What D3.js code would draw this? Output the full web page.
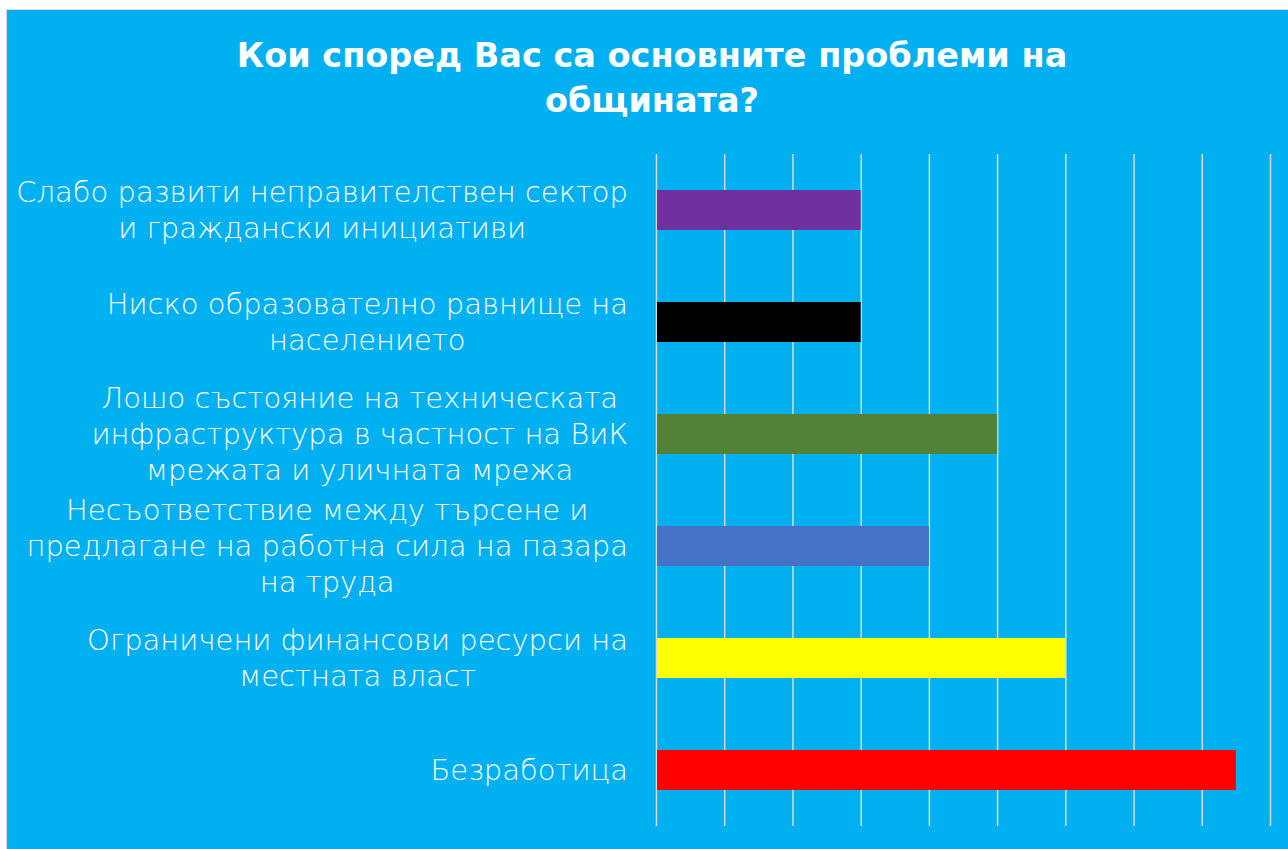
<!DOCTYPE html>
<html>
<head>
<meta charset="utf-8">
<script src="https://cdn.jsdelivr.net/npm/d3@7"></script>
<style>
  body { margin: 0; background: #ffffff; }
  svg { display: block; }
</style>
</head>
<body>
<svg id="chart"></svg>
<script>
(function () {

// Chart data
const titleLines = ["Кои според Вас са основните проблеми на", "общината?"];
const categories = [
  ["Слабо развити неправителствен сектор", "и граждански инициативи"],
  ["Ниско образователно равнище на", "населението"],
  ["Лошо състояние на техническата", "инфраструктура в частност на ВиК", "мрежата и уличната мрежа"],
  ["Несъответствие между търсене и", "предлагане на работна сила на пазара", "на труда"],
  ["Ограничени финансови ресурси на", "местната власт"],
  ["Безработица"]
];
const values = [3, 3, 5, 4, 6, 8.5];
const barColors = ["#7030A0", "#000000", "#538135", "#4472C4", "#FFFF00", "#FF0000"];
const tickValues = [0, 1, 2, 3, 4, 5, 6, 7, 8, 9];

const W = 1288, H = 849;
const plot = {left: 656, right: 1270, top: 154, bottom: 826};

const svg = d3.select("#chart")
    .attr("width", W)
    .attr("height", H);

// blue panel
svg.append("rect")
    .attr("x", 6.5).attr("y", 9.5)
    .attr("width", W).attr("height", H)
    .attr("fill", "#00B0F0")
    .attr("stroke", "#D9D9D9")
    .attr("stroke-width", 1);

// title
svg.append("g").selectAll("text")
    .data(titleLines)
    .enter().append("text")
    .attr("x", 652)
    .attr("y", (d, i) => 67 + i * 45)
    .attr("text-anchor", "middle")
    .attr("fill", "#ffffff")
    .style("font-family", "'DejaVu Sans', sans-serif")
    .style("font-weight", "bold")
    .style("font-size", "33.5px")
    .text(d => d);

const x = d3.scaleLinear()
    .domain([0, 9])
    .range([plot.left, plot.right]);

const y = d3.scaleBand()
    .domain(d3.range(categories.length))
    .range([plot.top, plot.bottom])
    .paddingInner(0.643)
    .paddingOuter(0.3215);

// vertical gridlines
const grid = svg.append("g")
    .attr("transform", `translate(0,${plot.bottom})`)
    .call(d3.axisBottom(x).tickValues(tickValues).tickSize(-(plot.bottom - plot.top)).tickFormat(""));
grid.select(".domain").remove();
grid.selectAll(".tick line")
    .attr("stroke", "#D9D9D9")
    .attr("stroke-width", 1.5);

// bars
svg.append("g").selectAll("rect")
    .data(values)
    .enter().append("rect")
    .attr("x", x(0) + 1)
    .attr("y", (d, i) => y(i))
    .attr("width", d => x(d) - x(0) - 1)
    .attr("height", y.bandwidth())
    .attr("fill", (d, i) => barColors[i]);

// category labels: block right aligned to the axis, lines centred in the block
const lineH = 36;
categories.forEach((lines, i) => {
  const cy = y(i) + y.bandwidth() / 2;
  const g = svg.append("g");
  const t = g.selectAll("text")
      .data(lines)
      .enter().append("text")
      .attr("y", (d, j) => cy + (j - (lines.length - 1) / 2) * lineH)
      .attr("dy", "0.36em")
      .attr("text-anchor", "middle")
      .attr("fill", "#ffffff")
      .style("font-family", "'DejaVu Sans', sans-serif")
      .style("font-weight", 200)
      .style("font-size", "29px")
      .text(d => d);
  let maxW = 0;
  t.each(function () { maxW = Math.max(maxW, this.getComputedTextLength()); });
  t.attr("x", 628 - maxW / 2);
});

})();
</script>
</body>
</html>
